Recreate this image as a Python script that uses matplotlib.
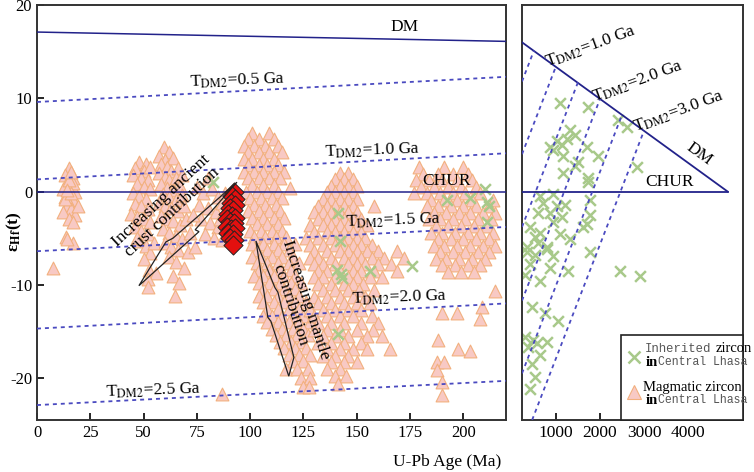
import matplotlib.pyplot as plt
from matplotlib.patches import Polygon, Rectangle
from matplotlib.lines import Line2D

plt.rcParams['font.family'] = ['Liberation Serif', 'DejaVu Serif']
plt.rcParams['mathtext.fontset'] = 'stix'
plt.rcParams['axes.unicode_minus'] = False

# ---- reference lines, left panel (value at 0 Ma and at 220 Ma)
line_ages = [0, 220]
dm_eps = [17.1, 16.1]
chur_eps = [0, 0]
tdm_names = ['0.5', '1.0', '1.5', '2.0', '2.5']
tdm_eps_0 = [9.6, 1.3, -6.4, -14.7, -22.9]
tdm_eps_220 = [12.3, 4.1, -3.8, -12.0, -20.3]

# ---- reference lines, right panel
dm_r_age = [230, 4900]
dm_r_eps = [16.0, 0.0]
tdm_r_names = ['1.0', '2.0', '3.0']
tdm_r_top_age = [500, 1000, 1500, 2000, 2500, 3000]
tdm_r_top_eps = [15.1, 13.4, 11.7, 9.9, 8.2, 6.5]
tdm_r_bot_age = [230, 230, 230, 230, 230, 460]
tdm_r_bot_eps = [11.8, 4.0, -3.8, -11.7, -19.5, -24.5]

# ---- magmatic zircon (triangles), listed as rows: (eHf, [ages])
grp_a_age = [15, 13, 17, 14, 16, 12, 18, 15, 13, 17, 15, 14, 16, 12, 18, 15,
             13, 17, 15, 16, 14, 19, 17, 13.5, 17, 7.5, 14, 16]
grp_a_eps = [2.5, 1.8, 1.5, 1.0, 0.6, 0.3, 0.0, -0.3, -0.6, -0.9, -1.2, -1.6,
             -1.9, -2.2, -2.5, -3.0, -0.8, 0.9, 1.2, -0.2, 0.2, -1.5, -3.3,
             -4.9, -5.5, -8.2, -5.1, 2.1]

grp_b_age = [48, 51, 46, 50, 53, 45, 49, 52, 47, 50, 53, 45, 48, 51, 46, 49,
             52, 44, 47, 50, 53, 46, 49, 52, 48, 51, 53, 50, 52.5, 56, 52, 52,
             47, 55,
             59.5, 62, 57, 60, 64, 58, 61, 63, 66, 57, 60, 62, 65, 68, 58, 61,
             64, 67, 59, 62, 65, 68, 57, 60, 63, 66, 69, 58, 61, 64, 67, 70,
             59, 62, 65, 68, 60, 63, 66, 62, 65, 63.8, 66.6, 64.7, 69, 71]
grp_b_eps = [3.2, 3.0, 2.5, 2.2, 2.6, 1.8, 1.5, 1.2, 0.8, 0.5, 0.3, -0.2, -0.5,
             -0.8, -1.3, -1.6, -1.9, -2.4, -2.7, -3.0, -3.3, -3.8, -4.2, -4.6,
             -5.3, -5.8, -6.6, -7.2, -8.4, -8.7, -9.4, -10.2, -5.0, -5.5,
             4.8, 4.2, 3.8, 3.4, 3.6, 2.9, 2.6, 2.2, 2.5, 2.0, 1.6, 1.2, 1.4,
             1.8, 0.8, 0.4, 0.2, 0.6, -0.3, -0.6, -0.9, -0.4, -1.2, -1.5, -1.8,
             -2.1, -1.6, -2.6, -2.9, -3.2, -3.6, -3.0, -4.0, -4.4, -4.8, -5.1,
             -5.5, -5.9, -6.3, -7.0, -7.6, -9.1, -9.8, -11.2, -8.2, -6.5]

grp_c_age = [75, 78, 82, 85, 76, 80, 84, 87, 77, 81, 85, 79, 83, 87, 86, 88,
             73, 72, 74, 80, 86.7]
grp_c_eps = [0.5, -0.2, 0.3, -0.6, -1.4, -1.8, -2.2, -1.2, -3.0, -3.4, -3.8,
             -4.6, -5.0, -5.2, -3.0, -0.2, -2.5, -4.5, -6.0, 1.5, -21.7]

grp_d_rows = [
    (6.3, [101, 109]), (5.6, [99, 104, 111]), (4.9, [97, 102, 107, 113]),
    (4.2, [99, 104, 109, 115]), (3.5, [97, 101, 106, 111]),
    (2.8, [99, 104, 108, 113]), (2.1, [97, 102, 106, 111, 116]),
    (1.4, [99, 104, 109, 114]), (0.7, [101, 106, 111]),
    (0.0, [98, 103, 108, 113]), (0.4, [118.6]),
    (-0.7, [100, 105, 110, 115]), (-1.4, [102, 107, 112]),
    (-2.1, [99, 104, 109, 114]), (-2.8, [101, 106, 111, 116]),
    (-3.5, [103, 108, 113]), (-4.2, [100, 105, 110, 115]),
    (-4.9, [102, 107, 112, 117]), (-5.6, [101, 106, 111, 116, 121]),
    (-6.3, [103, 108, 113, 118]), (-7.0, [101, 105, 110, 115, 120]),
    (-7.7, [103, 108, 113, 118, 123]), (-8.4, [104, 109, 114, 119]),
    (-9.1, [102, 106, 111, 116, 121]), (-9.8, [104, 109, 114, 119, 124]),
    (-10.5, [106, 111, 116, 121]), (-11.2, [104, 108, 113, 118, 123]),
    (-11.9, [106, 111, 116, 121, 126]), (-12.6, [108, 113, 118, 123]),
    (-13.3, [106, 110, 115, 120, 125]), (-14.0, [108, 113, 118, 123, 128]),
    (-14.7, [110, 115, 120, 125]), (-15.4, [112, 117, 122, 127]),
    (-16.1, [114, 119, 124]), (-16.8, [116, 121, 126]),
    (-17.5, [118, 123, 128]), (-18.2, [120, 125]), (-19.0, [117, 122, 127]),
    (-20.0, [124, 128]), (-21.0, [125, 127.5]),
]

grp_e_rows = [
    (2.0, [142, 146]), (1.3, [140, 144, 148]), (0.6, [138, 142, 146, 150]),
    (-0.1, [136, 140, 144, 148]), (-0.8, [134, 138, 142, 146, 150]),
    (-1.5, [132, 136, 140, 144, 148, 158]),
    (-2.2, [130, 134, 138, 142, 146, 150]),
    (-2.9, [132, 136, 140, 144, 148, 152]),
    (-3.6, [128, 134, 138, 142, 146, 150, 155]),
    (-4.3, [130, 136, 140, 144, 148, 152]),
    (-5.0, [126, 132, 138, 142, 146, 150, 154]),
    (-5.7, [128, 134, 140, 144, 148, 152, 157]),
    (-6.4, [130, 136, 142, 146, 150, 155, 160, 169]),
    (-7.1, [128, 132, 138, 144, 148, 152, 157, 163, 172]),
    (-7.8, [130, 134, 140, 146, 150, 154, 160, 166]),
    (-8.5, [132, 136, 142, 148, 152, 158, 169]),
    (-9.2, [130, 134, 140, 146, 150, 156, 162]),
    (-9.9, [132, 138, 144, 148, 153]), (-10.6, [134, 140, 146, 151, 158]),
    (-11.3, [130, 136, 142, 148, 154]), (-12.0, [132, 138, 144, 150, 156]),
    (-12.7, [128, 134, 140, 146, 152]), (-13.4, [130, 136, 142, 148, 157]),
    (-14.1, [132, 138, 144, 152, 160]), (-14.8, [130, 136, 142, 150, 157.5]),
    (-15.5, [134, 140, 146, 155, 162]), (-16.2, [132, 138, 144, 152]),
    (-16.9, [136, 142, 148, 155, 165.5]), (-17.6, [134, 140, 146]),
    (-18.3, [138, 144, 150]), (-19.0, [136, 142]), (-19.8, [140, 145]),
    (-20.6, [141]),
]

grp_f_rows = [
    (2.6, [179, 191, 200]), (1.9, [181, 188, 195, 202]),
    (1.2, [178, 184, 190, 197, 204]), (0.5, [180, 186, 193, 199, 206]),
    (-0.2, [177, 183, 189, 195, 201, 208]),
    (-0.9, [185, 191, 197, 204, 214]),
    (-1.6, [183, 188, 194, 200, 206, 212]),
    (-2.3, [186, 192, 198, 203, 209, 215]),
    (-3.0, [184, 189, 195, 201, 207, 213]),
    (-3.7, [187, 193, 199, 205, 211]),
    (-4.4, [185, 190, 196, 202, 208, 214]),
    (-5.1, [188, 194, 200, 206, 212]),
    (-5.8, [186, 191, 197, 203, 209, 215]),
    (-6.5, [189, 195, 201, 207, 212]), (-7.2, [187, 192, 198, 204, 210]),
    (-7.9, [190, 196, 202, 208]), (-8.6, [193, 199, 205]),
    (-10.7, [214.7]), (-12.4, [208.6]), (-13.0, [190, 197]), (-13.7, [207.7]),
    (-15.9, [188]), (-16.9, [197.4]), (-17.1, [203]), (-18.3, [187.5, 191]),
    (-19.1, [187.5]), (-20.4, [190]), (-21.8, [190]),
]

# ---- inherited zircon (crosses), left panel
inh_l_age = [141, 142, 140.5, 142.5, 143, 141, 156, 176, 192.5, 203, 210,
             211, 212, 211, 82.6]
inh_l_eps = [-2.3, -5.3, -8.4, -8.8, -9.3, -15.3, -8.5, -8.0, -0.9, -0.7, 0.3,
             -1.1, -1.6, -3.3, 1.0]

# ---- inherited zircon (crosses), right panel
inh_r_age = [1090, 1730, 2410, 2610, 1320, 1430, 1020, 1140, 930, 1250, 1700,
             1950, 1160, 1500, 1430, 2840, 1730, 1160, 1730, 640, 930, 700,
             1200, 1020, 1770, 590, 860, 1140, 1770, 1700, 930, 410, 640, 520,
             1090, 1320, 1610, 340, 590, 800, 1770, 340, 520, 800, 930, 410,
             860, 1270, 300, 640, 2450, 2910, 450, 750, 1050, 300, 480, 570,
             800, 360, 640, 450, 520, 410, 860]
inh_r_eps = [9.5, 9.1, 7.7, 6.9, 6.6, 6.1, 5.4, 5.0, 4.5, 5.6, 4.8, 3.8, 3.8,
             3.2, 2.7, 2.6, 1.5, 2.0, 1.0, -0.5, -0.3, -1.2, -1.4, -1.6, -0.9,
             -2.3, -2.3, -2.7, -2.5, -3.5, -3.3, -3.8, -4.4, -4.9, -4.6, -5.1,
             -3.8, -5.9, -5.5, -5.9, -6.5, -6.5, -6.8, -6.2, -6.9, -7.8, -8.2,
             -8.5, -8.9, -9.6, -8.5, -9.1, -12.4, -13.0, -13.9, -15.6, -15.9,
             -16.2, -16.1, -16.7, -17.5, -18.5, -19.9, -21.2, 4.8]

# ---- this study (red diamonds)
dia_age = [92.5, 91.5, 92.8, 91, 93, 90.5, 92, 89.5, 91.5, 93, 89, 90.5, 92.5,
           89, 91, 93, 89.8, 92, 90.5, 92.5, 91.8]
dia_eps = [0.0, -0.5, -0.8, -1.2, -1.4, -1.8, -2.0, -2.4, -2.6, -2.8, -3.0,
           -3.3, -3.4, -3.8, -4.0, -3.9, -4.5, -4.6, -5.0, -5.2, -5.7]

# ---- outline arrows
arrow1_age = [47.8, 60.5, 63.8, 93.8, 74.2, 76.0]
arrow1_eps = [-10.1, -5.4, -5.0, 1.0, -4.1, -4.3]
arrow2_age = [102.7, 111.6, 113.0, 120.5, 118.1, 109.7, 108.3]
arrow2_eps = [-5.3, -10.3, -10.8, -17.8, -19.8, -13.9, -13.5]


def expand(rows):
    ages, eps = [], []
    for e, al in rows:
        ages += al
        eps += [e] * len(al)
    return ages, eps


mag_age = grp_a_age + grp_b_age + grp_c_age
mag_eps = grp_a_eps + grp_b_eps + grp_c_eps
for rows in (grp_d_rows, grp_e_rows, grp_f_rows):
    a, e = expand(rows)
    mag_age += a
    mag_eps += e

W, H = 754, 472
fig = plt.figure(figsize=(W / 100, H / 100), dpi=100)
ax = fig.add_axes([37 / W, 1 - 420 / H, 469 / W, 415 / H])
ax2 = fig.add_axes([522 / W, 1 - 420 / H, 221 / W, 415 / H])

solid = '#22228a'
dotted = '#4a4ac0'
tri_face = '#f8c9c4'
tri_edge = '#f2b07e'
cross_col = '#a8c98a'


def tdm_label(name):
    # small subscript, as in the original figure
    return r'T$_{\mathrm{DM2}}$=' + name + ' Ga'


# left panel
ax.plot(line_ages, dm_eps, color=solid, lw=1.1, zorder=3)
ax.plot(line_ages, chur_eps, color=solid, lw=1.1, zorder=3)
for e0, e1 in zip(tdm_eps_0, tdm_eps_220):
    ax.plot(line_ages, [e0, e1], color=dotted, lw=1.3, ls=(0, (2.2, 2.2)), zorder=3)

ax.scatter(mag_age, mag_eps, marker='^', s=85, facecolor=tri_face,
           edgecolor=tri_edge, linewidths=0.8, zorder=2)
ax.scatter(inh_l_age, inh_l_eps, marker='x', s=60, color=cross_col,
           linewidths=1.8, zorder=2.5)
ax.scatter(dia_age, dia_eps, marker='D', s=95, facecolor='#e3100f',
           edgecolor='#222222', linewidths=0.7, zorder=4)

ax.add_patch(Polygon(list(zip(arrow1_age, arrow1_eps)), closed=True, fill=False,
                     ec='#222222', lw=0.9, zorder=5))
ax.add_patch(Polygon(list(zip(arrow2_age, arrow2_eps)), closed=True, fill=False,
                     ec='#222222', lw=0.9, zorder=5))

lab_fs = 12.5
ax.text(172.5, 17.6, 'DM', fontsize=lab_fs, ha='center', va='center', zorder=6)
ax.text(192, 1.1, 'CHUR', fontsize=lab_fs, ha='center', va='center', zorder=6)
tdm_pos = [(94, 11.9), (157.5, 4.4), (167, -3.1), (170, -11.4), (54.5, -21.3)]
for name, (x, y) in zip(tdm_names, tdm_pos):
    ax.text(x, y, tdm_label(name), fontsize=lab_fs,
            ha='center', va='center', rotation=2, zorder=6)
ax.text(61, -1.6, 'Increasing ancient\ncrust contribution', fontsize=12.5,
        ha='center', va='center', rotation=43, linespacing=1.0, zorder=6)
ax.text(122.4, -11.9, 'Increasing mantle\ncontribution', fontsize=12.5,
        ha='center', va='center', rotation=-72, linespacing=1.0, zorder=6)

ax.set_xlim(0, 220)
ax.set_ylim(-24.5, 20)
ax.set_xticks([0, 25, 50, 75, 100, 125, 150, 175, 200])
ax.set_yticks([-20, -10, 0, 10, 20])
ax.tick_params(direction='in', length=5, width=1.2, labelsize=12)

# right panel
ax2.plot(dm_r_age, dm_r_eps, color=solid, lw=1.3, zorder=3)
ax2.plot([230, 4900], [0, 0], color=solid, lw=1.3, zorder=3)
for ta, te, ba, be in zip(tdm_r_top_age, tdm_r_top_eps, tdm_r_bot_age, tdm_r_bot_eps):
    ax2.plot([ba, ta], [be, te], color=dotted, lw=1.3, ls=(0, (2.2, 2.2)), zorder=3)
ax2.scatter(inh_r_age, inh_r_eps, marker='x', s=60, color=cross_col,
            linewidths=1.8, zorder=2)

for name, (x, y) in zip(tdm_r_names, [(1800, 15.5), (2850, 11.8), (3800, 8.6)]):
    ax2.text(x, y, tdm_label(name), fontsize=12.5,
             ha='center', va='center', rotation=20, zorder=6)
ax2.text(4250, 4.0, 'DM', fontsize=12.5, ha='center', va='center',
         rotation=-36, zorder=6)
ax2.text(3580, 1.0, 'CHUR', fontsize=12.5, ha='center', va='center', zorder=6)

ax2.set_xlim(230, 5250)
ax2.set_ylim(-24.5, 20)
ax2.set_xticks([1000, 2000, 3000, 4000])
ax2.set_yticks([])
ax2.tick_params(direction='in', length=5, width=1.2, labelsize=12.5)

for a in (ax, ax2):
    for sp in a.spines.values():
        sp.set_linewidth(1.4)
        sp.set_color('#333333')

# axis labels
fig.text(14 / W, 1 - 232 / H, r'ε$_{\mathbf{Hf}}$(t)', rotation=90,
         fontsize=12.5, fontweight='bold', ha='center', va='center')
fig.text(447 / W, 1 - 462 / H, 'U-Pb Age (Ma)', fontsize=12.5,
         ha='center', va='center')

# legend box
fig.add_artist(Rectangle((621 / W, 1 - 420 / H), 122 / W, 85 / H,
                         transform=fig.transFigure, facecolor='white',
                         edgecolor='#222222', lw=1.2, zorder=5))
fig.add_artist(Line2D([634 / W], [1 - 357 / H], marker='x', ms=8, mew=1.8,
                      color=cross_col, transform=fig.transFigure, zorder=6))
fig.add_artist(Line2D([634 / W], [1 - 392 / H], marker='^', ms=10, mew=0.8,
                      mfc=tri_face, mec=tri_edge, transform=fig.transFigure,
                      zorder=6))
mono = 'Liberation Mono'
fig.text(645 / W, 1 - 349 / H, 'Inherited', family=mono, color='#555555',
         fontsize=8.8, va='center', zorder=7)
fig.text(716 / W, 1 - 349 / H, 'zircon', fontsize=10.5, va='center', zorder=7)
fig.text(646 / W, 1 - 362 / H, 'in', fontsize=10.5, fontweight='bold',
         va='center', zorder=7)
fig.text(658 / W, 1 - 362 / H, 'Central Lhasa', family=mono, color='#555555',
         fontsize=8.3, va='center', zorder=7)
fig.text(643 / W, 1 - 387 / H, 'Magmatic zircon', fontsize=10.5, va='center',
         zorder=7)
fig.text(646 / W, 1 - 400 / H, 'in', fontsize=10.5, fontweight='bold',
         va='center', zorder=7)
fig.text(658 / W, 1 - 400 / H, 'Central Lhasa', family=mono, color='#555555',
         fontsize=8.3, va='center', zorder=7)

fig.savefig('out.png', dpi=100)
